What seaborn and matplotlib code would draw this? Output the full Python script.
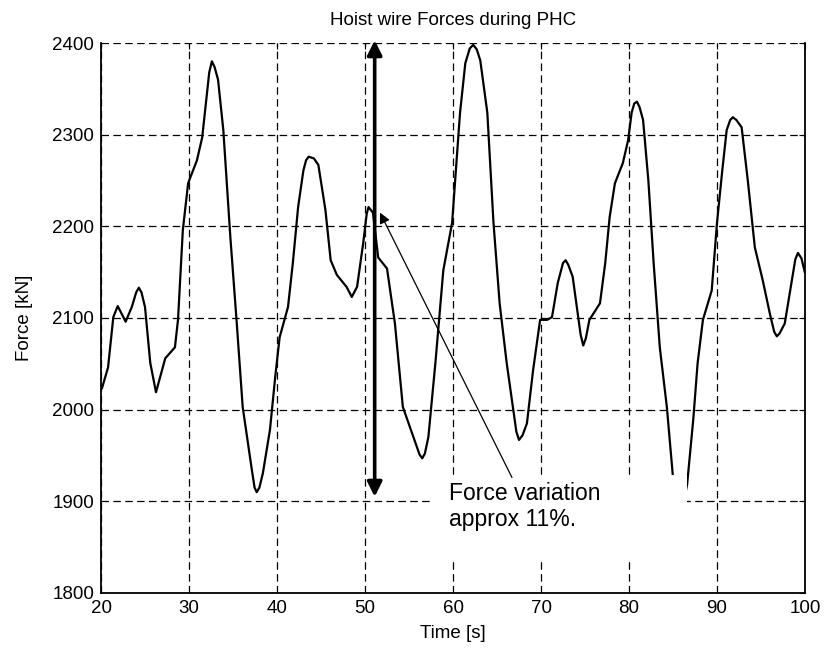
import pandas as pd
import numpy as np
import matplotlib
matplotlib.use("Agg")
import matplotlib.pyplot as plt
import seaborn as sns
from matplotlib.patches import Rectangle

# -------------------------------
# Data
# -------------------------------
time_s = [
    20.1, 20.8, 21.4, 21.9, 22.8, 23.5, 24.0, 24.3, 24.6, 25.0, 25.6, 26.25,
    27.3, 28.4, 28.75, 29.3, 29.9, 30.9, 31.5, 32.0, 32.3, 32.6, 32.9, 33.3,
    33.9, 34.7, 35.4, 36.1, 37.1, 37.45, 37.7, 38.0, 38.4, 39.2, 39.8, 40.3,
    41.25, 41.8, 42.4, 43.0, 43.3, 43.6, 44.2, 44.7, 45.5, 46.1, 46.8, 47.9,
    48.5, 49.1, 49.8, 50.2, 50.4, 50.9, 51.5, 52.5, 53.4, 54.3, 55.5,
    56.2, 56.5, 56.8, 57.2, 58.0, 58.9, 59.9, 60.8, 61.4, 61.9, 62.3, 62.7, 63.1, 63.9,
    64.6, 65.3, 66.1, 66.8, 67.2, 67.5, 67.9, 68.4, 69.1, 69.9, 70.7, 71.25,
    71.9, 72.5, 72.8, 73.1, 73.6, 74.1, 74.5, 74.8, 75.1, 75.5, 76.7, 77.3, 77.8, 78.4,
    79.3, 79.9, 80.3, 80.6, 80.9, 81.2, 81.6, 82.2, 82.8, 83.5, 84.3, 85.0,
    85.8, 86.6, 87.3, 87.8, 88.4, 89.4, 90.0, 90.6, 91.1, 91.5, 91.8, 92.2, 92.8, 93.5,
    94.3, 95.2, 96.0, 96.5, 96.8, 97.1, 97.7, 98.5, 98.9, 99.2, 99.6, 100.0,
]
force_kn = [
    2023, 2046, 2101, 2113, 2096, 2112, 2128, 2133, 2128, 2112, 2051, 2019,
    2056, 2068, 2098, 2196, 2247, 2272, 2297, 2341, 2368, 2380, 2374, 2360,
    2305, 2188, 2098, 2003, 1937, 1915, 1910, 1915, 1931, 1978, 2036, 2079,
    2112, 2160, 2221, 2261, 2272, 2276, 2274, 2267, 2218, 2163, 2147, 2134,
    2123, 2134, 2182, 2214, 2221, 2215, 2166, 2154, 2094, 2003, 1970,
    1951, 1947, 1952, 1970, 2051, 2152, 2204, 2324, 2378, 2394, 2398, 2393, 2381, 2324,
    2204, 2116, 2051, 2003, 1976, 1967, 1972, 1985, 2043, 2098, 2098, 2101,
    2138, 2160, 2163, 2158, 2145, 2110, 2082, 2070, 2078, 2098, 2116, 2160, 2210, 2247,
    2269, 2294, 2324, 2334, 2336, 2330, 2316, 2250, 2160, 2068, 2003, 1926,
    1880, 1918, 1989, 2051, 2098, 2130, 2204, 2261, 2305, 2316, 2319, 2316, 2308, 2250,
    2177, 2141, 2105, 2085, 2080, 2083, 2094, 2141, 2164, 2171, 2165, 2149,
]

x_ticks = [20, 30, 40, 50, 60, 70, 80, 90, 100]
y_ticks = [1800, 1900, 2000, 2100, 2200, 2300, 2400]

# double arrow (min / max force) and annotation
range_t = 51.1
range_low, range_high = 1905, 2403
note_tip = (51.7, 2215)
note_tail = (66.7, 1926)
note_text = "Force variation\napprox 11%."
note_pos = (59.6, 1921)
# white area behind the note (t0, t1, f0, f1)
note_box = (57.7, 86.6, 1838, 1929)

# -------------------------------
# Style
# -------------------------------
sns.set_style("white")
plt.rcParams["font.family"] = ["Liberation Sans", "DejaVu Sans"]
plt.rcParams["text.color"] = "black"
plt.rcParams["axes.labelcolor"] = "black"

fig, ax = plt.subplots(figsize=(8.25, 6.52), dpi=100)
fig.subplots_adjust(left=101 / 825, right=805 / 825, top=1 - 43 / 652, bottom=1 - 593 / 652)

df = pd.DataFrame({"Time [s]": time_s, "Force [kN]": force_kn})
sns.lineplot(data=df, x="Time [s]", y="Force [kN]", ax=ax, color="black",
             linewidth=1.6, sort=False, estimator=None, zorder=2)

ax.set_xlim(20, 100)
ax.set_ylim(1800, 2400)
ax.set_xticks(x_ticks)
ax.set_yticks(y_ticks)
ax.set_axisbelow(True)
ax.grid(True, color="black", linestyle=(0, (6, 3.5)), linewidth=0.9)
ax.tick_params(direction="in", length=4, width=0.8, top=True, right=True,
               labelsize=13.5, colors="black", pad=5)
for side in ["left", "right", "bottom"]:
    ax.spines[side].set_color("black")
    ax.spines[side].set_linewidth(1.3)
    ax.spines[side].set_zorder(6)
ax.spines["top"].set_visible(False)

ax.set_title("Hoist wire Forces during PHC", fontsize=13.5, pad=13, color="black")
ax.set_xlabel("Time [s]", fontsize=13.5, labelpad=6)
ax.set_ylabel("Force [kN]", fontsize=13.5, labelpad=14)

# white patch behind the note
ax.add_patch(Rectangle((note_box[0], note_box[2]), note_box[1] - note_box[0],
                       note_box[3] - note_box[2], facecolor="white",
                       edgecolor="none", zorder=3))

# min / max arrow
ax.annotate("", xy=(range_t, range_high), xytext=(range_t, range_low),
            arrowprops=dict(arrowstyle="<|-|>", color="black", lw=2.6,
                            mutation_scale=22, shrinkA=0, shrinkB=0),
            zorder=4, annotation_clip=False)

# note arrow
ax.annotate("", xy=note_tip, xytext=note_tail,
            arrowprops=dict(arrowstyle="-|>", color="black", lw=0.9,
                            mutation_scale=16, shrinkA=0, shrinkB=0),
            zorder=4)
ax.text(note_pos[0], note_pos[1], note_text, fontsize=16.5, va="top",
        ha="left", linespacing=1.15, zorder=5, color="black")

plt.savefig("out.png", dpi=100)
plt.close()
